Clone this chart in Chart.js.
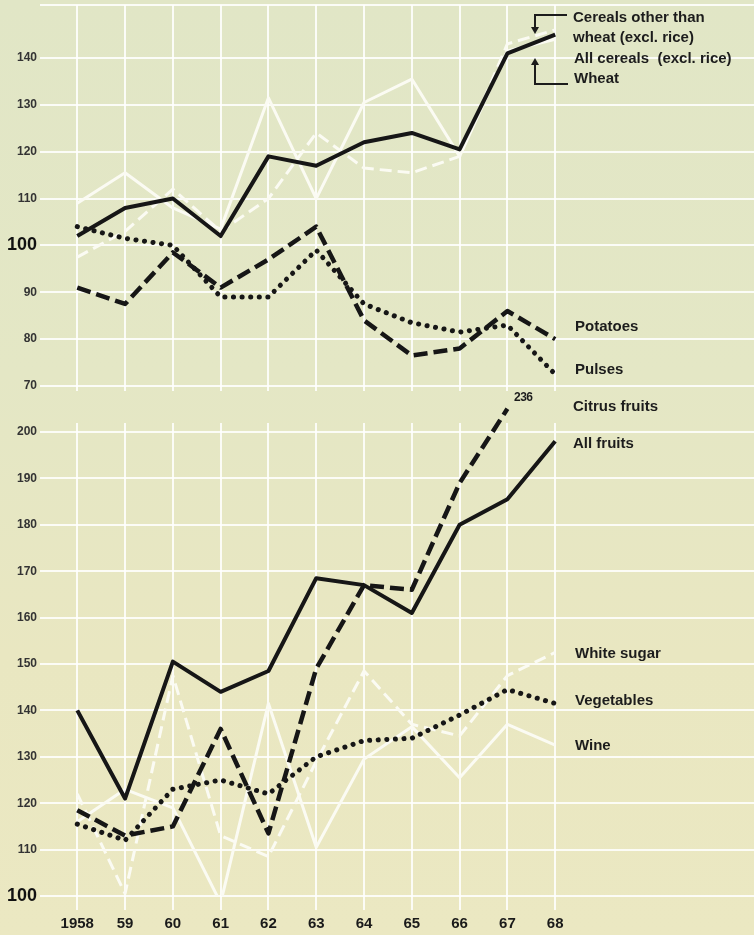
<!DOCTYPE html>
<html>
<head>
<meta charset="utf-8">
<script src="https://cdn.jsdelivr.net/npm/chart.js@4/dist/chart.umd.min.js"></script>
<style>
  html, body { margin: 0; padding: 0; }
  body {
    width: 754px;
    height: 935px;
    position: relative;
    overflow: hidden;
    background: linear-gradient(180deg, #e1e6c6 0%, #e4e7c5 40%, #e9e7c1 70%, #ebe8c2 100%);
    font-family: "Liberation Sans", Arial, sans-serif;
  }
  #graficoSuperior { position: absolute; left: 0; top: 0; }
  #graficoInferior { position: absolute; left: 0; top: 390px; }
  .etiqueta {
    position: absolute;
    font-weight: bold;
    font-size: 15px;
    line-height: 1;
    color: #1c1c1c;
    white-space: pre;
  }
  .corchete { position: absolute; border: 0 solid #1c1c1c; }
  .flecha { position: absolute; width: 0; height: 0; border-left: 4px solid transparent; border-right: 4px solid transparent; }
</style>
</head>
<body>
<canvas id="graficoSuperior" width="754" height="400"></canvas>
<canvas id="graficoInferior" width="754" height="545"></canvas>

<!-- Etiquetas de las series (texto real) -->
<div class="etiqueta" style="left:573px; top:9px;">Cereals other than</div>
<div class="etiqueta" style="left:573px; top:29px;">wheat (excl. rice)</div>
<div class="etiqueta" style="left:574px; top:50px;">All cereals  (excl. rice)</div>
<div class="etiqueta" style="left:574px; top:70px;">Wheat</div>
<div class="etiqueta" style="left:575px; top:318px;">Potatoes</div>
<div class="etiqueta" style="left:575px; top:361px;">Pulses</div>
<div class="etiqueta" style="left:573px; top:398px;">Citrus fruits</div>
<div class="etiqueta" style="left:573px; top:435px;">All fruits</div>
<div class="etiqueta" style="left:575px; top:645px;">White sugar</div>
<div class="etiqueta" style="left:575px; top:692px;">Vegetables</div>
<div class="etiqueta" style="left:575px; top:737px;">Wine</div>
<div class="etiqueta" style="left:514px; top:391px; font-size:12px; letter-spacing:-0.5px;">236</div>

<!-- Corchetes con flecha para los cereales -->
<div class="corchete" style="left:534px; top:14px; width:31px; height:14px; border-left-width:2px; border-top-width:2px;"></div>
<div class="flecha" style="left:531px; top:27px; border-top:7px solid #1c1c1c;"></div>
<div class="corchete" style="left:534px; top:65px; width:32px; height:18px; border-left-width:2px; border-bottom-width:2px;"></div>
<div class="flecha" style="left:531px; top:58px; border-bottom:7px solid #1c1c1c;"></div>

<script>
// Años del eje horizontal y sus etiquetas
const anios = [1958, 1959, 1960, 1961, 1962, 1963, 1964, 1965, 1966, 1967, 1968];
const etiquetasAnios = ['1958', '59', '60', '61', '62', '63', '64', '65', '66', '67', '68'];

// Marcas del eje vertical de cada panel (el borde superior del panel de arriba no lleva número)
const marcasSuperior = [70, 80, 90, 100, 110, 120, 130, 140, 151.3];
const marcasInferior = [100, 110, 120, 130, 140, 150, 160, 170, 180, 190, 200];

// Panel superior: cereales, patatas y legumbres (índice)
const todosCereales = [102, 108, 110, 102, 119, 117, 122, 124, 120.5, 141, 145];
const trigo = [109, 115.5, 108, 103.5, 131.5, 110, 130.5, 135.5, 119, 141.5, 144];
const otrosCereales = [97.5, 103, 112, 103, 110, 124, 116.5, 115.5, 119, 143, 146];
const patatas = [91, 87.5, 98.5, 91, 97, 104, 84, 76.5, 78, 86, 80];
const legumbres = [104, 101.5, 100, 89, 89, 99, 87.5, 83.5, 81.5, 83, 72.5];

// Panel inferior: frutas, azúcar, verduras y vino (índice)
const todasFrutas = [140, 121, 150.5, 144, 148.5, 168.5, 167, 161, 180, 185.5, 198];
// En 1967 los cítricos valen 236; la línea se corta arriba del panel (se dibuja en ~205)
const citricos = [118.5, 113, 115, 136, 113.5, 149, 167, 166, 189, 205, null];
const verduras = [115.5, 112, 123, 125, 122, 130, 133.5, 134, 139, 144.5, 141.5];
const azucar = [122, 100.5, 147.5, 113, 108.5, 129, 148.5, 137, 134.5, 147.5, 152.5];
const vino = [116, 123, 119, 98.5, 141.5, 110.5, 129.5, 136.5, 125.5, 137, 132.5];

const negro = '#161616';
const blanco = '#fbfbf3';
const colorReja = 'rgba(255, 255, 255, 0.85)';
const fuente = '"Liberation Sans", Arial, sans-serif';

// Estilos de línea según el tipo
function serie(datos, tipo) {
    const base = {
        data: anios.map((a, i) => ({ x: a, y: datos[i] })),
        pointRadius: 0,
        tension: 0,
        fill: false,
        borderJoinStyle: 'round'
    };
    if (tipo === 'solido') return { ...base, borderColor: negro, borderWidth: 4 };
    if (tipo === 'guiones') return { ...base, borderColor: negro, borderWidth: 4.5, borderDash: [14, 6] };
    if (tipo === 'puntos') return { ...base, borderColor: negro, borderWidth: 5, borderDash: [0.1, 8.5], borderCapStyle: 'round' };
    if (tipo === 'blanco') return { ...base, borderColor: blanco, borderWidth: 3 };
    return { ...base, borderColor: blanco, borderWidth: 3, borderDash: [12, 6] }; // blanco con guiones
}

// Eje X común: años como escala lineal, con espacio a la derecha para las etiquetas
function ejeX(mostrarEtiquetas, alto, largoMarca) {
    return {
        type: 'linear',
        min: 1957.22,
        max: 1972.16,
        afterBuildTicks: eje => { eje.ticks = anios.map(a => ({ value: a })); },
        afterFit: eje => { eje.height = alto; },
        grid: { color: colorReja, lineWidth: 2, drawTicks: true, tickLength: largoMarca, tickColor: colorReja },
        border: { display: false },
        ticks: {
            display: mostrarEtiquetas,
            autoSkip: false,
            maxRotation: 0,
            padding: 5,
            color: '#1a1a1a',
            font: { family: fuente, size: 15, weight: 'bold' },
            callback: (v, i) => etiquetasAnios[i]
        }
    };
}

// Eje Y: el 100 se destaca con letra más grande
function ejeY(min, max, marcas) {
    return {
        min: min,
        max: max,
        afterBuildTicks: eje => { eje.ticks = marcas.map(v => ({ value: v })); },
        afterFit: eje => {
            eje.width = 40;
            // sin margen extra por las etiquetas de los extremos
            eje.paddingTop = 0;
            eje.paddingBottom = 0;
        },
        grid: { color: colorReja, lineWidth: 2, drawTicks: false },
        border: { display: false },
        ticks: {
            padding: 3,
            color: ctx => ctx.tick && ctx.tick.value === 100 ? '#111' : '#333',
            font: ctx => (ctx.tick && ctx.tick.value === 100)
                ? { family: fuente, size: 18, weight: 'bold' }
                : { family: fuente, size: 12, weight: 'bold' },
            callback: v => (v % 10 === 0 ? String(v) : '')
        }
    };
}

const opcionesComunes = {
    responsive: false,
    animation: false,
    plugins: { legend: { display: false }, tooltip: { enabled: false } }
};

// Gráfico superior
new Chart(document.getElementById('graficoSuperior').getContext('2d'), {
    type: 'line',
    data: {
        datasets: [
            serie(todosCereales, 'solido'),
            serie(patatas, 'guiones'),
            serie(legumbres, 'puntos'),
            serie(trigo, 'blanco'),
            serie(otrosCereales, 'blancoGuiones')
        ]
    },
    options: {
        ...opcionesComunes,
        layout: { padding: { top: 5, right: 0, left: 0, bottom: 0 } },
        scales: {
            x: ejeX(false, 14, 5),
            y: ejeY(70, 151.3, marcasSuperior)
        }
    }
});

// Gráfico inferior
const seriesInferior = [
    serie(todasFrutas, 'solido'),
    serie(citricos, 'guiones'),
    serie(verduras, 'puntos'),
    serie(vino, 'blanco'),
    serie(azucar, 'blancoGuiones')
];
seriesInferior[1].clip = false; // la línea de cítricos sobresale por arriba

new Chart(document.getElementById('graficoInferior').getContext('2d'), {
    type: 'line',
    data: { datasets: seriesInferior },
    options: {
        ...opcionesComunes,
        layout: { padding: { top: 33, right: 0, left: 0, bottom: 0 } },
        scales: {
            x: ejeX(true, 39, 14),
            y: ejeY(100, 201.94, marcasInferior)
        }
    }
});
</script>
</body>
</html>
